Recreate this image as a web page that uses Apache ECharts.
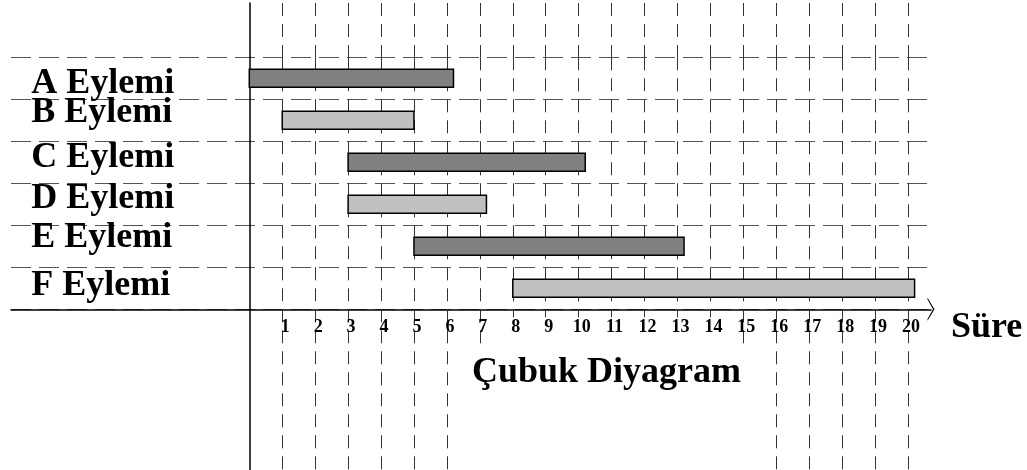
<!DOCTYPE html>
<html>
<head>
<meta charset="utf-8">
<script src="https://cdn.jsdelivr.net/npm/echarts@6/dist/echarts.min.js"></script>
<style>html,body{margin:0;padding:0;background:#fff;}#c{width:1027px;height:470px;}</style>
</head>
<body>
<div id="c"></div>
<script>
var categories = ['A Eylemi', 'B Eylemi', 'C Eylemi', 'D Eylemi', 'E Eylemi', 'F Eylemi'];
var starts = [0, 1, 3, 3, 5, 8];
var ends = [6.2, 5, 10.2, 7.2, 13.2, 20.2];
var tickLabels = ['1','2','3','4','5','6','7','8','9','10','11','12','13','14','15','16','17','18','19','20'];
var longLines = [1, 2, 3, 4, 5, 6, 16, 17, 18, 19, 20];
var midLines = [7, 15];
var titleText = 'Çubuk Diyagram';
var axisName = 'Süre';

var FONT = "'Liberation Serif', 'Times New Roman', serif";
var dashV = { color: '#333', width: 1, type: [13, 8] };
var dashH = { color: '#555', width: 1, type: [20, 8] };
var L = 249.3, R = 1027 - 908;
// layout nudges (px) for the row labels, as drawn in the original
var labelNudge = [5, -8, -5, -6, -9, -3];

var barData = categories.map(function (c, i) { return [i, starts[i], ends[i]]; });
var lowCats = ['0'].concat(tickLabels);
var richStyles = {};
labelNudge.forEach(function (n, i) {
  richStyles['r' + i] = {
    fontFamily: FONT, fontWeight: 'bold', fontSize: 36, color: '#000', lineHeight: 36,
    padding: n >= 0 ? [2 * n, 0, 0, 0] : [0, 0, -2 * n, 0]
  };
});

var chart = echarts.init(document.getElementById('c'));
chart.setOption({
  animation: false,
  backgroundColor: '#fff',
  title: {
    text: titleText, left: 467, top: 350,
    textStyle: { fontFamily: FONT, fontWeight: 'bold', fontSize: 36, color: '#000', lineHeight: 36 }
  },
  grid: [
    { left: L, right: R, top: 3, height: 54.3, outerBoundsMode: 'none', containLabel: false },
    { left: L, right: R, top: 57.3, bottom: 160.7, outerBoundsMode: 'none', containLabel: false },
    { left: 11, right: 96, top: 57.3, bottom: 160.7, outerBoundsMode: 'none', containLabel: false },
    { left: L, right: R, top: 309.3, bottom: 0, outerBoundsMode: 'none', containLabel: false },
    { left: L, right: R, top: 309.3, height: 40, outerBoundsMode: 'none', containLabel: false }
  ],
  xAxis: [
    { gridIndex: 0, type: 'value', min: 0, max: 20, interval: 1,
      axisLine: { show: false }, axisTick: { show: false }, axisLabel: { show: false },
      splitLine: { show: true, showMinLine: false, lineStyle: dashV } },
    { gridIndex: 1, type: 'value', min: 0, max: 20, interval: 1,
      axisLine: { show: false },
      axisTick: { show: true, length: 8, lineStyle: { color: '#333', width: 1 } },
      axisLabel: { show: true, showMinLabel: false, margin: 9, padding: [0, 0, 0, 6],
        fontFamily: FONT, fontWeight: 'bold', fontSize: 18, color: '#000',
        formatter: function (v) { return v === 0 ? '' : tickLabels[v - 1]; } },
      splitLine: { show: true, showMinLine: false, lineStyle: dashV } },
    { gridIndex: 2, type: 'value', min: 0, max: 1,
      axisLine: { show: true, lineStyle: { color: '#000', width: 1.5 },
        symbol: ['none', 'path://M0,7L11.5,0L23,7L21.2,7L11.5,1.5L1.8,7Z'], symbolSize: [23, 7] },
      axisTick: { show: false }, axisLabel: { show: false }, splitLine: { show: false },
      name: axisName, nameLocation: 'end', nameGap: 20,
      nameTextStyle: { fontFamily: FONT, fontWeight: 'bold', fontSize: 36, color: '#000',
        verticalAlign: 'top', lineHeight: 36 } },
    { gridIndex: 3, type: 'category', data: lowCats, boundaryGap: false,
      axisLine: { show: false }, axisLabel: { show: false }, axisTick: { show: false },
      splitLine: { show: true,
        interval: function (i) { return longLines.indexOf(i) >= 0; },
        lineStyle: dashV } },
    { gridIndex: 4, type: 'category', data: lowCats, boundaryGap: false,
      axisLine: { show: false }, axisLabel: { show: false }, axisTick: { show: false },
      splitLine: { show: true,
        interval: function (i) { return midLines.indexOf(i) >= 0; },
        lineStyle: dashV } }
  ],
  yAxis: [
    { gridIndex: 0, type: 'value', min: 0, max: 1,
      axisLine: { show: true, lineStyle: { color: '#000', width: 1.5 } },
      axisTick: { show: false }, axisLabel: { show: false }, splitLine: { show: false } },
    { gridIndex: 1, type: 'category', data: categories, inverse: true,
      axisLine: { show: true, lineStyle: { color: '#000', width: 1.5 } },
      axisTick: { show: false }, splitLine: { show: false },
      axisLabel: { show: true, interval: 0, align: 'left', margin: 218,
        fontFamily: FONT, fontWeight: 'bold', fontSize: 36, color: '#000',
        formatter: function (v, i) { return '{r' + i + '|' + v + '}'; },
        rich: richStyles } },
    { gridIndex: 2, type: 'category', data: categories, inverse: true,
      axisLine: { show: false }, axisTick: { show: false }, axisLabel: { show: false },
      splitLine: { show: true, lineStyle: dashH } },
    { gridIndex: 3, type: 'value', min: 0, max: 1,
      axisLine: { show: true, lineStyle: { color: '#000', width: 1.5 } },
      axisTick: { show: false }, axisLabel: { show: false }, splitLine: { show: false } },
    { gridIndex: 4, type: 'value', min: 0, max: 1, show: false }
  ],
  series: [{
    type: 'custom',
    xAxisIndex: 1, yAxisIndex: 1,
    clip: false,
    encode: { x: [1, 2], y: 0 },
    data: barData,
    renderItem: function (params, api) {
      var cat = api.value(0);
      var s = api.coord([api.value(1), cat]);
      var e = api.coord([api.value(2), cat]);
      var h = 18;
      return {
        type: 'rect',
        shape: { x: s[0], y: s[1] - h / 2, width: e[0] - s[0], height: h },
        style: { fill: cat % 2 === 0 ? '#808080' : '#c0c0c0', stroke: '#000', lineWidth: 1.5 }
      };
    }
  }]
});
</script>
</body>
</html>
